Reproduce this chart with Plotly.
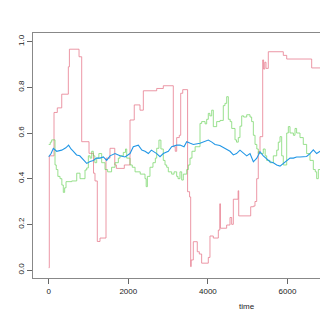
import plotly.graph_objects as go

# ---- data ----
red_t = [0, 15, 133, 216, 327, 493, 520, 762, 829, 1013, 1126, 1163, 1221, 1289, 1440, 1540, 1660, 1700, 1900,
         2043, 2150, 2294, 2378, 2714, 2880, 3131, 3180, 3216, 3282, 3317, 3368, 3490, 3540, 3568, 3580, 3634,
         3734, 3785, 3843, 4011, 4053, 4137, 4263, 4300, 4315, 4472, 4556, 4598, 4640, 4760, 4775, 5076, 5143,
         5184, 5227, 5267, 5310, 5378, 5400, 5430, 5461, 5519, 5896, 5981, 6609, 7400]
red_y = [0.01, 0.50, 0.69, 0.71, 0.77, 0.89, 0.967, 0.934, 0.562, 0.511, 0.424, 0.39, 0.125, 0.14, 0.49, 0.533,
         0.46, 0.445, 0.46, 0.657, 0.723, 0.70, 0.785, 0.795, 0.807, 0.54, 0.52, 0.58, 0.59, 0.774, 0.79, 0.343,
         0.32, 0.015, 0.044, 0.124, 0.08, 0.07, 0.03, 0.055, 0.149, 0.14, 0.175, 0.29, 0.183, 0.197, 0.23, 0.20,
         0.31, 0.347, 0.237, 0.277, 0.28, 0.30, 0.40, 0.518, 0.584, 0.92, 0.88, 0.91, 0.883, 0.956, 0.94, 0.924,
         0.885, 0.885]

green_t = [0, 40, 75, 158, 190, 230, 284, 330, 367, 400, 435, 578, 704, 787, 912, 955, 996, 1040, 1080, 1121,
           1160, 1206, 1260, 1331, 1415, 1480, 1580, 1666, 1750, 1792, 1875, 1930, 1960, 2043, 2100, 2170, 2300,
           2420, 2450, 2480, 2545, 2620, 2680, 2714, 2770, 2820, 2880, 2923, 2965, 3006, 3090, 3150, 3216, 3250,
           3299, 3342, 3383, 3468, 3509, 3551, 3600, 3680, 3802, 3844, 3930, 3970, 4011, 4050, 4096, 4137, 4221,
           4305, 4388, 4430, 4473, 4514, 4560, 4599, 4682, 4720, 4765, 4807, 4850, 4900, 4976, 5059, 5100, 5143,
           5185, 5230, 5268, 5393, 5440, 5478, 5561, 5645, 5730, 5770, 5813, 5855, 5896, 5981, 6022, 6064, 6150,
           6190, 6230, 6315, 6398, 6482, 6566, 6650, 6700, 6734, 6776, 7400]
green_y = [0.55, 0.56, 0.57, 0.46, 0.44, 0.41, 0.40, 0.372, 0.34, 0.36, 0.387, 0.39, 0.424, 0.40, 0.438, 0.447,
           0.50, 0.49, 0.52, 0.50, 0.47, 0.49, 0.51, 0.47, 0.44, 0.43, 0.45, 0.47, 0.49, 0.50, 0.515, 0.53, 0.49,
           0.46, 0.45, 0.43, 0.42, 0.40, 0.365, 0.41, 0.45, 0.47, 0.49, 0.533, 0.569, 0.53, 0.48, 0.46, 0.45, 0.43,
           0.42, 0.43, 0.41, 0.40, 0.43, 0.394, 0.42, 0.44, 0.46, 0.49, 0.52, 0.54, 0.642, 0.65, 0.64, 0.66, 0.686,
           0.675, 0.70, 0.628, 0.65, 0.655, 0.72, 0.73, 0.759, 0.66, 0.65, 0.62, 0.57, 0.56, 0.58, 0.63, 0.675,
           0.67, 0.68, 0.67, 0.65, 0.59, 0.55, 0.53, 0.51, 0.53, 0.50, 0.48, 0.47, 0.50, 0.525, 0.56, 0.584, 0.50,
           0.46, 0.60, 0.628, 0.60, 0.59, 0.62, 0.60, 0.58, 0.55, 0.51, 0.48, 0.44, 0.43, 0.40, 0.44, 0.44]

blue_t = [0, 60, 116, 200, 326, 430, 500, 560, 620, 700, 780, 829, 880, 955, 1040, 1121, 1200, 1290, 1373, 1457,
          1541, 1666, 1792, 1917, 2043, 2126, 2252, 2340, 2420, 2504, 2580, 2630, 2714, 2797, 2880, 3006, 3090,
          3216, 3300, 3400, 3468, 3560, 3634, 3802, 4011, 4100, 4179, 4300, 4430, 4556, 4640, 4720, 4807, 4900,
          4976, 5059, 5143, 5230, 5310, 5393, 5478, 5561, 5645, 5730, 5813, 5896, 5981, 6064, 6150, 6230, 6315,
          6400, 6482, 6566, 6650, 6734, 6818, 7400]
blue_y = [0.496, 0.51, 0.533, 0.52, 0.525, 0.535, 0.547, 0.53, 0.52, 0.504, 0.50, 0.49, 0.48, 0.467, 0.475, 0.48,
          0.49, 0.49, 0.495, 0.48, 0.50, 0.51, 0.50, 0.495, 0.51, 0.54, 0.547, 0.525, 0.52, 0.51, 0.525, 0.52,
          0.51, 0.496, 0.51, 0.52, 0.54, 0.547, 0.547, 0.54, 0.562, 0.555, 0.55, 0.555, 0.569, 0.56, 0.55, 0.545,
          0.533, 0.52, 0.504, 0.51, 0.525, 0.51, 0.50, 0.51, 0.474, 0.49, 0.518, 0.50, 0.485, 0.474, 0.47, 0.46,
          0.455, 0.467, 0.48, 0.49, 0.49, 0.495, 0.495, 0.495, 0.497, 0.51, 0.526, 0.51, 0.52, 0.51]

x_ticks = [0, 2000, 4000, 6000]
y_ticks = [0.0, 0.2, 0.4, 0.6, 0.8, 1.0]
y_tick_labels = ["0.0", "0.2", "0.4", "0.6", "0.8", "1.0"]
x_label = "time"

fig = go.Figure()
fig.add_trace(go.Scatter(x=red_t, y=red_y, mode="lines", opacity=0.75,
                         line=dict(color="#DF536B", width=0.8, shape="hv"), showlegend=False))
fig.add_trace(go.Scatter(x=green_t, y=green_y, mode="lines", opacity=0.8,
                         line=dict(color="#61D04F", width=0.8, shape="hv"), showlegend=False))
fig.add_trace(go.Scatter(x=blue_t, y=blue_y, mode="lines",
                         line=dict(color="#2297E6", width=1.1), showlegend=False))

font = dict(family="Liberation Sans, Arial, sans-serif", size=8, color="#222")
fig.update_layout(
    width=320, height=320,
    margin=dict(l=33, r=0, t=33, b=42),
    paper_bgcolor="white", plot_bgcolor="white",
    font=font,
    xaxis=dict(range=[-395, 6818], tickvals=x_ticks, ticks="outside", ticklen=5, tickcolor="#666",
               showline=True, linecolor="#888", linewidth=1, mirror=True, showgrid=False, zeroline=False,
               tickfont=font),
    yaxis=dict(range=[-0.035, 1.038], tickvals=y_ticks, ticktext=y_tick_labels, ticks="outside", ticklen=5,
               tickcolor="#666", tickangle=-90, showline=True, linecolor="#888", linewidth=1, mirror=False,
               showgrid=False, zeroline=False, tickfont=font),
    annotations=[dict(text=x_label, xref="paper", yref="paper", x=0.7456, y=-0.118, xanchor="center",
                      yanchor="middle", showarrow=False, font=font)],
)

fig.write_html("out.html", config={"displayModeBar": False},
               post_script="document.body.style.margin='0';document.body.style.overflow='hidden';")
